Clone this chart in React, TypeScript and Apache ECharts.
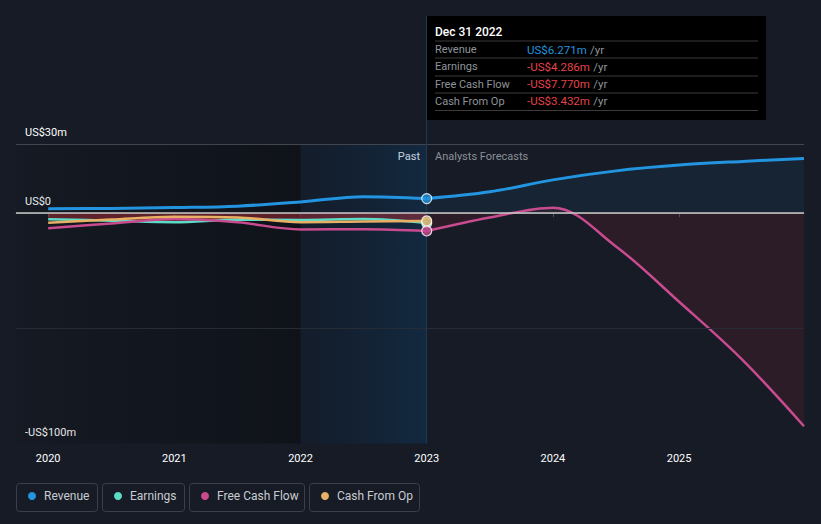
import React, { useEffect, useRef } from "react";
import * as echarts from "echarts";

// ---- data (US$ millions, x = decimal year) ----
const pastX = [2020.0, 2020.5, 2021.0, 2021.5, 2022.0, 2022.5, 2023.0];
const revenuePast = [1.9, 2.0, 2.4, 3.0, 4.8, 7.1, 6.271];
const earningsPast = [-2.7, -3.3, -4.0, -2.9, -3.0, -2.6, -4.286];
const fcfPast = [-6.6, -4.5, -2.6, -4.0, -7.1, -7.0, -7.77];
const cfoPast = [-4.2, -2.8, -1.6, -1.9, -4.0, -3.7, -3.432];

const forecastX = [2023.0, 2023.5, 2024.0, 2024.5, 2025.0, 2025.5, 2025.99];
const revenueForecast = [6.271, 9.2, 14.4, 18.3, 20.8, 22.4, 23.7];
const fcfForecast = [-7.77, -1.9, 2.3, -14.5, -38.5, -63.6, -92.5];

const xTickValues = [2020, 2021, 2022, 2023, 2024, 2025];
const xTickLabels = ["2020", "2021", "2022", "2023", "2024", "2025"];
const yTickValues = [30, 0, -100];
const yTickLabels = ["US$30m", "US$0", "-US$100m"];

const seriesNames = ["Revenue", "Earnings", "Free Cash Flow", "Cash From Op"];
const seriesColors = ["#2394df", "#5cdcc6", "#c84b8f", "#e8b064"];

const tooltipDate = "Dec 31 2022";
const tooltipValues = ["US$6.271m", "-US$4.286m", "-US$7.770m", "-US$3.432m"];
const tooltipX = 2023.0;

const xMin = 2019.745;
const xMax = 2025.99;

const FONT = "Roboto, 'Noto Sans', sans-serif";

const zip = (xs: number[], ys: number[]) => xs.map((x, i) => [x, ys[i]]);

export default function App() {
  const ref = useRef<HTMLDivElement>(null);

  useEffect(() => {
    if (!ref.current) return;
    const chart = echarts.init(ref.current, undefined, { renderer: "svg" });

    const lineBase = (name: string, color: string, data: number[][], width = 2.5) => ({
      name,
      type: "line",
      data,
      smooth: 0.35,
      showSymbol: false,
      symbol: "none",
      lineStyle: { color, width },
      itemStyle: { color },
      z: 3,
    });

    // legend boxes
    const legendBoxes = [
      { x: 16, w: 81 },
      { x: 102, w: 82 },
      { x: 189, w: 115 },
      { x: 309, w: 110 },
    ];
    const legendGraphic = legendBoxes.map((b, i) => ({
      type: "group",
      x: b.x,
      y: 483,
      children: [
        {
          type: "rect",
          shape: { x: 0.5, y: 0.5, width: b.w, height: 28, r: 3 },
          style: { fill: "#161b25", stroke: "#3a3f49", lineWidth: 1 },
        },
        {
          type: "circle",
          shape: { cx: 16, cy: 13, r: 4 },
          style: { fill: seriesColors[i] },
        },
        {
          type: "text",
          x: 28,
          y: 13,
          style: {
            text: seriesNames[i],
            fill: "#c8ccd2",
            font: `12px ${FONT}`,
            verticalAlign: "middle",
          },
        },
      ],
    }));

    const valueColors = ["#2394df", "#e5424b", "#e5424b", "#e5424b"];
    const rowY = [49.5, 66.5, 84, 101];
    const sepY = [41, 58, 76, 93, 110.5];
    const tooltipGraphic = {
      type: "group",
      x: 0,
      y: 0,
      z: 100,
      children: [
        {
          type: "rect",
          shape: { x: 426, y: 16, width: 340, height: 104 },
          style: { fill: "#000000" },
        },
        {
          type: "text",
          x: 435,
          y: 31.5,
          style: {
            text: tooltipDate,
            fill: "#ffffff",
            font: `500 12px ${FONT}`,
            verticalAlign: "middle",
          },
        },
        ...sepY.map((y) => ({
          type: "line",
          shape: { x1: 435, y1: y, x2: 758, y2: y },
          style: { stroke: "#3b3b3b", lineWidth: 1 },
        })),
        ...seriesNames.map((n, i) => ({
          type: "text",
          x: 435,
          y: rowY[i],
          style: {
            text: n,
            fill: "#8f949b",
            font: `11px ${FONT}`,
            verticalAlign: "middle",
          },
        })),
        ...tooltipValues.map((v, i) => ({
          type: "text",
          x: 527,
          y: rowY[i],
          style: {
            text: `{v|${v}} {u|/yr}`,
            verticalAlign: "middle",
            rich: {
              v: { fill: valueColors[i], font: `11.5px ${FONT}` },
              u: { fill: "#8f949b", font: `11.5px ${FONT}` },
            },
          },
        })),
      ],
    };

    const textGraphic = [
      {
        type: "text",
        x: 420,
        y: 156,
        style: {
          text: "Past",
          fill: "#ffffff",
          font: `11px ${FONT}`,
          align: "right",
          verticalAlign: "middle",
        },
      },
      {
        type: "text",
        x: 435,
        y: 156,
        style: {
          text: "Analysts Forecasts",
          fill: "#8c9098",
          font: `11px ${FONT}`,
          align: "left",
          verticalAlign: "middle",
        },
      },
    ];

    const option: any = {
      animation: false,
      backgroundColor: "#161b25",
      textStyle: { fontFamily: FONT },
      grid: { left: 16, right: 17, top: 16, bottom: 80.5, containLabel: false },
      xAxis: {
        type: "value",
        min: xMin,
        max: xMax,
        splitLine: { show: false },
        axisLine: { show: true, lineStyle: { color: "#4b505a", width: 1 } },
        axisTick: {
          show: true,
          customValues: xTickValues,
          length: 4,
          lineStyle: { color: "#4b505a" },
        },
        axisLabel: {
          customValues: xTickValues,
          color: "#ffffff",
          fontSize: 11,
          fontFamily: FONT,
          margin: 9,
          formatter: (v: number) => xTickLabels[xTickValues.indexOf(Math.round(v))] ?? "",
        },
      },
      yAxis: {
        type: "value",
        min: -100,
        max: 85.5,
        splitLine: { show: false },
        axisLine: { show: false },
        axisTick: { show: false },
        axisLabel: {
          customValues: yTickValues,
          inside: true,
          margin: 9,
          color: "#ffffff",
          fontSize: 11,
          fontFamily: FONT,
          verticalAlign: "bottom",
          padding: [0, 0, 6, 0],
          formatter: (v: number) => yTickLabels[yTickValues.indexOf(v)] ?? "",
        },
      },
      series: [
        {
          type: "line",
          name: "bg",
          data: [[xMin, 0]],
          showSymbol: false,
          symbol: "none",
          lineStyle: { opacity: 0 },
          silent: true,
          z: 1,
          markArea: {
            silent: true,
            data: [
              [
                {
                  xAxis: xMin,
                  yAxis: 30,
                  itemStyle: {
                    color: {
                      type: "linear",
                      x: 0,
                      y: 0,
                      x2: 1,
                      y2: 0,
                      colorStops: [
                        { offset: 0, color: "rgba(0,0,0,0.06)" },
                        { offset: 1, color: "rgba(0,0,0,0.32)" },
                      ],
                    },
                  },
                },
                { xAxis: 2022, yAxis: -100 },
              ],
              [
                {
                  xAxis: 2022,
                  yAxis: 30,
                  itemStyle: {
                    color: {
                      type: "linear",
                      x: 0,
                      y: 0,
                      x2: 1,
                      y2: 0,
                      colorStops: [
                        { offset: 0, color: "rgba(5,40,80,0.14)" },
                        { offset: 1, color: "rgba(10,80,140,0.27)" },
                      ],
                    },
                  },
                },
                { xAxis: 2023, yAxis: -100 },
              ],
            ],
          },
          markLine: {
            silent: true,
            symbol: "none",
            label: { show: false },
            data: [
              { yAxis: 30, lineStyle: { color: "#40454f", width: 1, type: "solid" } },
              { yAxis: -50, lineStyle: { color: "#262c36", width: 1, type: "solid" } },
              { xAxis: tooltipX, lineStyle: { color: "#1d3a54", width: 1, type: "solid" } },
            ],
          },
        },
        {
          ...lineBase("Revenue forecast", seriesColors[0], zip(forecastX, revenueForecast), 3),
          areaStyle: { color: "rgba(35,148,223,0.11)", origin: 0 },
        },
        {
          ...lineBase("Free Cash Flow forecast", seriesColors[2], zip(forecastX, fcfForecast)),
          areaStyle: { color: "rgba(200,45,60,0.17)", origin: 0 },
        },
        {
          ...lineBase("Earnings", seriesColors[1], zip(pastX, earningsPast)),
          areaStyle: { color: "rgba(190,48,58,0.62)", origin: 0 },
        },
        lineBase("Free Cash Flow", seriesColors[2], zip(pastX, fcfPast)),
        lineBase("Cash From Op", seriesColors[3], zip(pastX, cfoPast)),
        lineBase("Revenue", seriesColors[0], zip(pastX, revenuePast), 3),
        {
          type: "line",
          name: "zero",
          data: [[xMin, 0]],
          showSymbol: false,
          symbol: "none",
          lineStyle: { opacity: 0 },
          silent: true,
          z: 4,
          markLine: {
            silent: true,
            symbol: "none",
            label: { show: false },
            data: [{ yAxis: 0, lineStyle: { color: "#c9c9c9", width: 1.5, type: "solid" } }],
          },
        },
        {
          type: "scatter",
          name: "dots",
          z: 5,
          symbolSize: 10,
          data: [
            { value: [tooltipX, earningsPast[6]], itemStyle: { color: seriesColors[1] } },
            { value: [tooltipX, fcfPast[6]], itemStyle: { color: seriesColors[2] } },
            { value: [tooltipX, cfoPast[6]], itemStyle: { color: seriesColors[3] } },
            { value: [tooltipX, revenuePast[6]], itemStyle: { color: seriesColors[0] } },
          ],
          itemStyle: { borderColor: "#ffffff", borderWidth: 1.2 },
        },
      ],
      graphic: [...textGraphic, ...legendGraphic, tooltipGraphic],
    };

    chart.setOption(option);
    return () => chart.dispose();
  }, []);

  return (
    <div
      ref={ref}
      style={{ position: "fixed", left: 0, top: 0, width: 821, height: 524, background: "#161b25" }}
    />
  );
}
